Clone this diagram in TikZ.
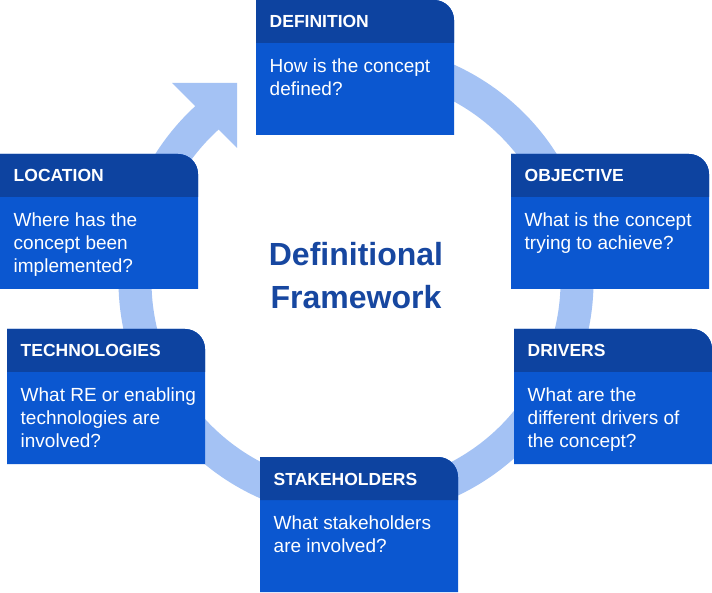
\documentclass[tikz,border=0pt]{standalone}
\usepackage{fontspec}
\setmainfont{Liberation Sans}
\usetikzlibrary{calc}
\definecolor{hdr}{HTML}{0D43A0}
\definecolor{bdy}{HTML}{0B57D0}
\definecolor{ringc}{HTML}{A4C2F4}
\definecolor{ttl}{HTML}{1747A0}
\newcommand\fwbox[5]{%
  \node[boxframe] (#1) at (#2,-#3) {};
  \fill[bdy] (#1.south west) -- (#1.north west) -- ($(#1.north east)+(-20,0)$)
     arc[start angle=90,end angle=0,radius=20] -- (#1.south east) -- cycle;
  \fill[hdr] (#1.north west) -- ($(#1.north east)+(-20,0)$)
     arc[start angle=90,end angle=0,radius=20] -- ($(#1.north east)+(0,-43)$)
     -- ($(#1.north west)+(0,-43)$) -- cycle;
  \node[hdtext] (#1-t) at ($(#1.north west)+(13.5,-28)$) {#4};
  \node[bdtext] (#1-b) at ($(#1.north west)+(13.5,-59)$) {#5};
}
\begin{document}
\begin{tikzpicture}[x=1pt,y=1pt,
  boxframe/.style={draw=none,fill=none,minimum width=198pt,minimum height=135pt,inner sep=0pt,outer sep=0pt,anchor=north west},
  hdtext/.style={anchor=base west,inner sep=0pt,text=white,font=\fontsize{17.5}{21}\selectfont\bfseries},
  bdtext/.style={anchor=north west,inner sep=0pt,text=white,align=left,font=\fontsize{19}{23}\selectfont},
  ringline/.style={draw=ringc,line width=33pt},
  titletext/.style={anchor=north,inner sep=0pt,text=ttl,align=center,font=\fontsize{32}{43}\selectfont\bfseries}]
\fill[white] (0,0) rectangle (712,-593);
\useasboundingbox (0,0) rectangle (712,-593);
\coordinate (C) at (356,-281);
\draw[ringline] ($(C)+(110:221)$) arc[start angle=110,end angle=-229,radius=221];
\fill[ringc] (172,-83) -- (237,-83) -- (237,-148) -- cycle;
\node[titletext] (title) at (356,-242) {Definitional\\Framework};
\fwbox{def}{256}{0}{DEFINITION}{How is the concept\\defined?}
\fwbox{obj}{511}{154}{OBJECTIVE}{What is the concept\\trying to achieve?}
\fwbox{loc}{0}{154}{LOCATION}{Where has the\\concept been\\implemented?}
\fwbox{tech}{7}{329}{TECHNOLOGIES}{What RE or enabling\\technologies are\\involved?}
\fwbox{drv}{514}{329}{DRIVERS}{What are the\\different drivers of\\the concept?}
\fwbox{stk}{260}{457}{STAKEHOLDERS}{What stakeholders\\are involved?}
\end{tikzpicture}
\end{document}
